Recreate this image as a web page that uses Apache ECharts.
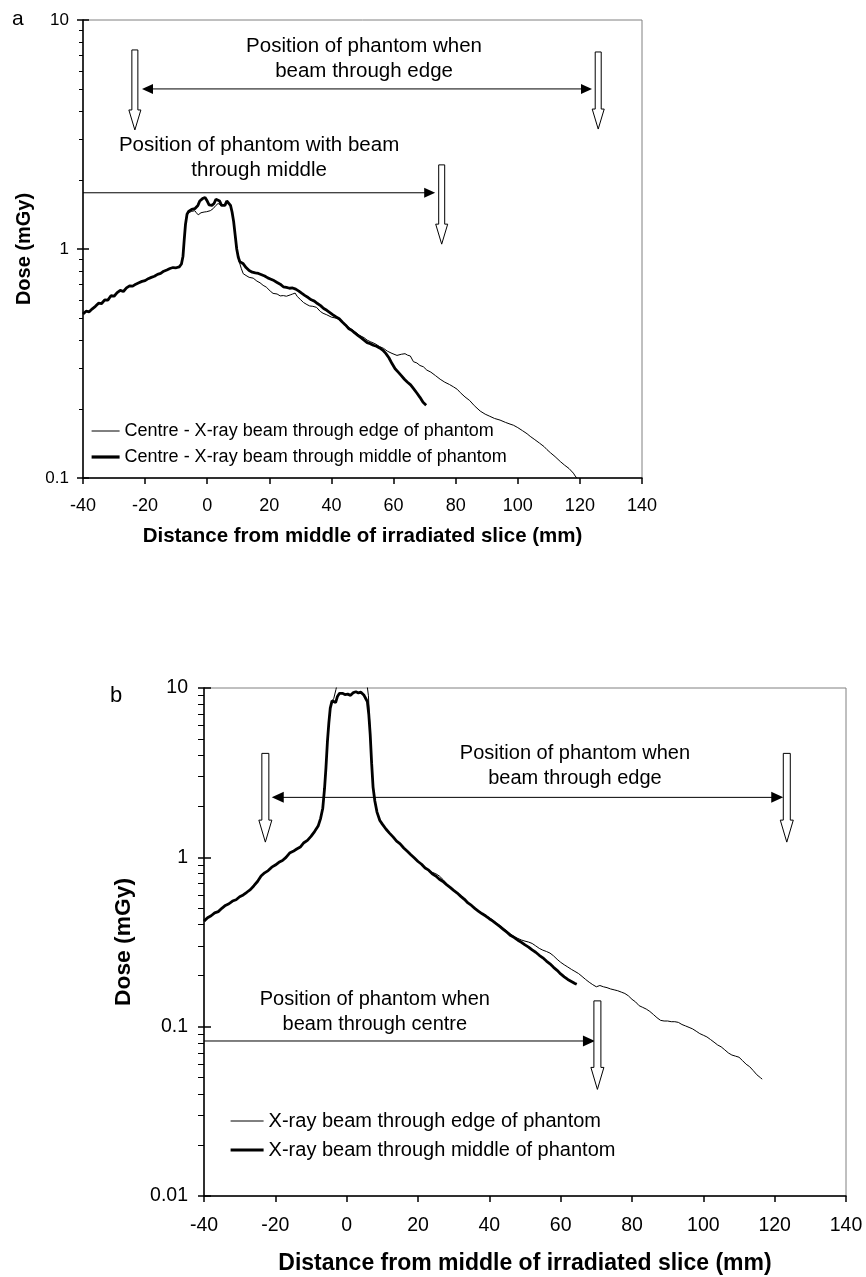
<!DOCTYPE html>
<html><head><meta charset="utf-8">
<script src="https://cdn.jsdelivr.net/npm/echarts@6/dist/echarts.min.js"></script>
<style>html,body{margin:0;padding:0;background:#fff}#c{width:866px;height:1277px}</style>
</head><body><div id="c"></div>
<script>
const FONT = '"Liberation Sans", Arial, sans-serif';

// ---------- Panel a ----------
const nameA_edge = 'Centre - X-ray beam through edge of phantom';
const nameA_mid = 'Centre - X-ray beam through middle of phantom';
const xA_mid = [-40,-39,-38,-37,-36,-35,-34,-33,-32,-31,-30,-29,-28,-27,-26,-25,-24,-23,-22,-21,-20,-19,-18,-17,-16,-15,-14,-13,-12,-11,-10,-9,
  -8.3,-7.8,-7.4,-7.0,-6.5,-6,-5,-4,-3,-2.4,-1.5,-0.7,0,0.6,1.5,2.2,2.8,3.3,4.0,4.6,5.2,5.7,6.3,6.8,7.5,8.0,8.5,9.0,9.5,10,
  10.5,11.5,12.5,13.5,14.5,15.5,16.5,17.5,18.5,19.5,20.5,21.5,22.5,23.5,24.5,25.5,26.5,27.5,28.5,29.5,30.5,31.5,32.5,33.5,34.5,35.5,36.5,37.5,38.5,39.5,40.5,
  41.5,42.5,43.5,44.5,45.5,46.5,47.5,48.5,49.5,50.5,51.5,52.5,53.5,54.5,55.5,56.5,57.5,58.5,59.5,60.5,61.5,62.5,63.5,64.5,65.5,66.5,67.5,68.5,69.5,70.5];
const yA_mid = [0.52,0.535,0.532,0.548,0.562,0.58,0.578,0.6,0.598,0.625,0.622,0.645,0.66,0.652,0.676,0.69,0.688,0.702,0.712,0.722,0.728,0.742,0.752,0.76,0.775,0.782,0.8,0.81,0.822,0.83,0.828,0.836,
  0.86,0.93,1.1,1.28,1.42,1.46,1.49,1.5,1.55,1.62,1.66,1.68,1.62,1.56,1.55,1.58,1.65,1.68,1.62,1.55,1.53,1.55,1.62,1.63,1.55,1.45,1.32,1.15,1.0,0.92,
  0.88,0.865,0.83,0.805,0.792,0.786,0.782,0.772,0.762,0.748,0.738,0.728,0.714,0.702,0.684,0.68,0.674,0.676,0.668,0.655,0.64,0.626,0.614,0.6,0.592,0.578,0.566,0.55,0.54,0.528,0.516,
  0.505,0.496,0.48,0.466,0.45,0.442,0.43,0.42,0.41,0.4,0.39,0.386,0.38,0.376,0.37,0.362,0.35,0.335,0.316,0.3,0.29,0.28,0.27,0.262,0.255,0.245,0.235,0.225,0.214,0.208];

const xA_edge = [-40,-39,-38,-37,-36,-35,-34,-33,-32,-31,-30,-29,-28,-27,-26,-25,-24,-23,-22,-21,-20,-19,-18,-17,-16,-15,-14,-13,-12,-11,-10,-9,
  -8.3,-7.8,-7.4,-7.0,-6.5,-6,-5,-4,-3.5,-3.1,-2.9,-2,-1,-0.2,1,1.9,2.8,3.5,4.0,4.6,5.2,5.7,6.3,6.8,7.5,8.0,8.5,9.0,9.5,10,
  10.3,11,11.6,12.5,13.5,14.8,16,17,18,19,20.3,21.2,22.5,23.5,24.5,25.5,26.7,27.5,28.3,29,30,31,32.1,33,34,35.2,36.4,37.3,38.5,40,
  41.8,43,44.5,46,47.5,49,50.5,51.5,52.5,54,55.5,56.8,58,59.5,61.1,62.5,63.7,64.5,65.4,66.4,67.5,68.5,69.6,70.7,72,73.5,75,76.5,78,79.3,
  80.5,81.5,83,84.5,86,87.9,89.5,91,92.5,94.3,96,97.5,98.6,100,101.5,103,104,105.5,107,108.5,109.4,110.5,112,113.7,115,116.5,117.9,118.5,119];
const yA_edge = [0.522,0.534,0.534,0.546,0.562,0.578,0.58,0.598,0.6,0.622,0.624,0.644,0.658,0.654,0.674,0.688,0.69,0.7,0.714,0.72,0.73,0.74,0.754,0.76,0.774,0.784,0.798,0.812,0.82,0.83,0.83,0.834,
  0.86,0.93,1.1,1.28,1.4,1.44,1.46,1.47,1.44,1.42,1.41,1.44,1.45,1.455,1.47,1.5,1.55,1.58,1.6,1.55,1.53,1.55,1.62,1.63,1.55,1.45,1.32,1.15,1.0,0.92,
  0.88,0.82,0.78,0.766,0.752,0.746,0.724,0.712,0.694,0.682,0.655,0.64,0.636,0.624,0.626,0.622,0.63,0.636,0.642,0.62,0.602,0.584,0.572,0.564,0.562,0.556,0.534,0.524,0.516,0.504,
  0.498,0.484,0.468,0.45,0.436,0.42,0.41,0.4,0.394,0.386,0.375,0.368,0.358,0.35,0.343,0.347,0.349,0.344,0.341,0.322,0.318,0.31,0.306,0.296,0.29,0.28,0.27,0.262,0.256,0.25,
  0.244,0.236,0.226,0.218,0.207,0.196,0.19,0.186,0.182,0.179,0.175,0.172,0.17,0.166,0.161,0.156,0.152,0.147,0.142,0.137,0.133,0.129,0.124,0.118,0.114,0.11,0.105,0.102,0.1];

// annotations panel a (data units)
const arrowsA = [[-21, 123.9, 5.0, 2], [-40, 73.4, 1.76, 1]];      // x1, x2, y, heads
const hollowA = [[-23.3, 7.4, 3.31], [125.9, 7.25, 3.34], [75.5, 2.33, 1.05]]; // x, yTop, yBottom
const textPosA = [[50.5, 6.78], [16.7, 2.49]];
const textsA = ['Position of phantom when\nbeam through edge', 'Position of phantom with beam\nthrough middle'];

// ---------- Panel b ----------
const nameB_edge = 'X-ray beam through edge of phantom';
const nameB_mid = 'X-ray beam through middle of phantom';
const xB_mid = [-40,-39,-38,-37,-36,-35,-34,-33,-32,-31,-30,-29,-28,-27,-26,-25,-24,-23,-22,-21,-20,-19,-18,-17,-16,-15,-14,-13,-12,-11,-10,-9,-8,
  -7.3,-6.7,-6.2,-5.8,-5.4,-5.0,-4.6,-4.1,-3.6,-3.1,-2.6,-2,-1.2,-0.5,0.3,1.1,1.9,2.6,3.3,4.0,4.8,5.3,5.8,6.2,6.6,7.0,7.4,7.9,8.5,9.3,
  10,11,12,13,14,15,16,17,18,19,20,21,22,23,24,25,26,27,28,29,30,31,32,33,34,35,36,37,38,39,40,41,42,43,44,45,46,47,48,49,50,51,52,53,54,55,56,57,58,59,60,61,62,63,64,64.5];
const yB_mid = [0.42,0.44,0.452,0.47,0.478,0.5,0.52,0.532,0.552,0.562,0.585,0.6,0.622,0.645,0.68,0.72,0.775,0.81,0.835,0.875,0.9,0.935,0.958,1.0,1.06,1.085,1.12,1.15,1.22,1.26,1.33,1.42,1.53,
  1.7,1.95,2.55,3.4,4.8,6.2,7.6,8.4,8.5,8.2,8.9,9.3,9.3,9.15,9.2,9.05,9.4,9.5,9.35,9.45,9.1,8.7,8.3,7.0,5.3,3.6,2.6,2.15,1.85,1.65,
  1.57,1.47,1.39,1.32,1.245,1.2,1.135,1.085,1.035,0.99,0.945,0.91,0.865,0.84,0.8,0.775,0.742,0.72,0.69,0.665,0.638,0.615,0.588,0.565,0.538,0.52,0.498,0.48,0.464,0.45,
  0.434,0.42,0.404,0.39,0.374,0.36,0.345,0.336,0.324,0.315,0.304,0.295,0.284,0.275,0.264,0.255,0.244,0.235,0.224,0.215,0.205,0.197,0.19,0.185,0.18,0.178];

const xB_edge = [-40,-39,-38,-37,-36,-35,-34,-33,-32,-31,-30,-29,-28,-27,-26,-25,-24,-23,-22,-21,-20,-19,-18,-17,-16,-15,-14,-13,-12,-11,-10,-9,-8,
  -7.3,-6.7,-6.2,-5.8,-5.4,-5.0,-4.6,-4.1,-3.6,-3.0,-2.5,-2,-1,0,1,2,3,4,5.2,5.7,6.1,6.5,7.0,7.4,7.9,8.5,9.3,
  10,11,12,13,14,15,16,17,18,19,20,21,22,23,24,25,26,27,28,29,30,31,32,33,34,35,36,37,38,39,40,41,42,43,44,45,46,47,48,49,
  50,51,52,53,54,55,56,57,58,59,60,61,62,63,64,65,66,67,68,69,70,71,72,73,74,75,76,77,78,79,80,81,82,83,84,85,86,87,88,89,
  90,91,92,93,94,95,96,97,98,99,100,101,102,103,104,105,106,107,108,109,110,111,112,113,114,115,116,116.5];
const yB_edge = [0.422,0.438,0.454,0.468,0.48,0.498,0.522,0.534,0.55,0.564,0.584,0.602,0.62,0.646,0.678,0.722,0.772,0.812,0.836,0.874,0.902,0.933,0.96,1.0,1.058,1.088,1.118,1.152,1.218,1.262,1.328,1.42,1.53,
  1.7,1.95,2.55,3.4,4.8,6.2,7.6,8.3,8.7,9.8,11,12,12.5,12.5,12.5,12.5,12.5,12.5,12,10.5,9.0,6.0,3.6,2.6,2.15,1.85,1.65,
  1.57,1.47,1.39,1.32,1.25,1.19,1.14,1.08,1.035,0.985,0.945,0.905,0.865,0.835,0.815,0.8,0.775,0.74,0.7,0.665,0.64,0.615,0.595,0.575,0.545,0.52,0.5,0.484,0.468,0.454,
  0.44,0.425,0.41,0.395,0.38,0.366,0.352,0.34,0.332,0.325,0.32,0.316,0.31,0.3,0.29,0.283,0.278,0.272,0.262,0.25,0.24,0.232,0.225,0.218,0.212,0.206,0.198,0.19,0.183,0.177,
  0.172,0.175,0.172,0.17,0.167,0.165,0.163,0.16,0.157,0.152,0.145,0.14,0.133,0.13,0.127,0.123,0.118,0.113,0.109,0.108,
  0.108,0.107,0.107,0.106,0.103,0.101,0.099,0.097,0.094,0.091,0.089,0.087,0.084,0.081,0.078,0.076,0.073,0.07,0.068,0.067,0.066,0.063,0.06,0.058,0.055,0.052,0.05,0.049];

const arrowsB = [[-21, 122.4, 2.26, 2], [-40, 69.6, 0.0823, 1]];
const hollowB = [[-22.8, 4.11, 1.23], [123.4, 4.11, 1.23], [70.3, 0.142, 0.0426]];
const textPosB = [[64, 3.46], [7.9, 0.1217]];
const textsB = ['Position of phantom when\nbeam through edge', 'Position of phantom when\nbeam through centre'];

const THIN = 1, THICK = 2.8;

function zip(xs, ys) { const n = Math.min(xs.length, ys.length); const o = []; for (let i = 0; i < n; i++) o.push([xs[i], ys[i]]); return o; }

function arrowSeries(data, xi, yi, hl, hw) {
  return {
    type: 'custom', xAxisIndex: xi, yAxisIndex: yi, clip: false, silent: true, z: 5,
    encode: { x: [0, 1], y: [2] }, data: data,
    renderItem: function (params, api) {
      const p1 = api.coord([api.value(0), api.value(2)]);
      const p2 = api.coord([api.value(1), api.value(2)]);
      const both = api.value(3) === 2;
      const ch = [{ type: 'line', shape: { x1: p1[0] + (both ? hl - 1 : 0), y1: p1[1], x2: p2[0] - hl + 1, y2: p2[1] }, style: { stroke: '#000', lineWidth: 1 } },
        { type: 'polygon', shape: { points: [[p2[0], p2[1]], [p2[0] - hl, p2[1] - hw], [p2[0] - hl, p2[1] + hw]] }, style: { fill: '#000' } }];
      if (both) ch.push({ type: 'polygon', shape: { points: [[p1[0], p1[1]], [p1[0] + hl, p1[1] - hw], [p1[0] + hl, p1[1] + hw]] }, style: { fill: '#000' } });
      return { type: 'group', children: ch };
    }
  };
}
function hollowSeries(data, xi, yi, sw, hw, hl) {
  return {
    type: 'custom', xAxisIndex: xi, yAxisIndex: yi, clip: false, silent: true, z: 5,
    encode: { x: [0], y: [1, 2] }, data: data,
    renderItem: function (params, api) {
      const t = api.coord([api.value(0), api.value(1)]);
      const b = api.coord([api.value(0), api.value(2)]);
      const cx = t[0], yt = t[1], yb = b[1], yh = yb - hl;
      return { type: 'polygon', shape: { points: [[cx - sw, yt], [cx + sw, yt], [cx + sw, yh], [cx + hw, yh], [cx, yb], [cx - hw, yh], [cx - sw, yh]] },
        style: { fill: '#fff', stroke: '#000', lineWidth: 1 } };
    }
  };
}
function textSeries(pos, texts, xi, yi, fs, lh) {
  return {
    type: 'custom', xAxisIndex: xi, yAxisIndex: yi, clip: false, silent: true, z: 5,
    encode: { x: 0, y: 1 }, data: pos,
    renderItem: function (params, api) {
      const p = api.coord([api.value(0), api.value(1)]);
      return { type: 'text', x: p[0], y: p[1], style: { text: texts[params.dataIndex], align: 'center', verticalAlign: 'middle', font: fs + 'px ' + FONT, fill: '#000', lineHeight: lh } };
    }
  };
}

function xAx(gi, fs, margin, nameFs, nameGap) {
  return { gridIndex: gi, type: 'value', min: -40, max: 140, interval: 20,
    axisLine: { onZero: false, lineStyle: { color: '#000', width: 1.5 } },
    axisTick: { length: 6, lineStyle: { color: '#000', width: 1.5 } },
    axisLabel: { color: '#000', fontSize: fs, margin: margin, fontFamily: FONT },
    splitLine: { show: false },
    name: 'Distance from middle of irradiated slice (mm)', nameLocation: 'middle', nameGap: nameGap,
    nameTextStyle: { fontSize: nameFs, fontWeight: 'bold', color: '#000', fontFamily: FONT } };
}
function yAx(gi, min, fs, margin, nameFs, nameGap, minorLen) {
  return { gridIndex: gi, type: 'log', logBase: 10, min: min, max: 10,
    axisLine: { show: true, onZero: false, lineStyle: { color: '#000', width: 1.5 } },
    axisTick: { show: true, length: 6, lineStyle: { color: '#000', width: 1.5 } },
    minorTick: { show: true, splitNumber: 9, length: minorLen, lineStyle: { color: '#000', width: 1 } },
    splitLine: { show: false }, minorSplitLine: { show: false },
    axisLabel: { color: '#000', fontSize: fs, margin: margin, fontFamily: FONT },
    name: 'Dose (mGy)', nameLocation: 'middle', nameGap: nameGap,
    nameTextStyle: { fontSize: nameFs, fontWeight: 'bold', color: '#000', fontFamily: FONT } };
}
function yIn(gi, min, len) {
  return { gridIndex: gi, type: 'log', logBase: 10, min: min, max: 10, position: 'left',
    axisLine: { show: false, onZero: false }, axisTick: { show: true, inside: true, length: len, lineStyle: { color: '#000', width: 1.5 } },
    axisLabel: { show: false }, splitLine: { show: false } };
}

const legendCommon = { orient: 'vertical', padding: 0, itemHeight: 14, selectedMode: false, itemStyle: { opacity: 0 } };

const chart = echarts.init(document.getElementById('c'), null, { renderer: 'canvas' });
chart.setOption({
  animation: false,
  backgroundColor: '#fff',
  textStyle: { fontFamily: FONT },
  grid: [
    { left: 83, top: 20, width: 559, height: 458, show: true, borderColor: '#808080', borderWidth: 1, backgroundColor: 'transparent' },
    { left: 204, top: 688, width: 642, height: 508, show: true, borderColor: '#808080', borderWidth: 1, backgroundColor: 'transparent' }
  ],
  xAxis: [xAx(0, 18, 19, 20.5, 48), xAx(1, 19.5, 20, 23, 56)],
  yAxis: [yAx(0, 0.1, 17, 14, 20, 49, 4), yIn(0, 0.1, 6), yAx(1, 0.01, 19.5, 16, 22.8, 69, 6), yIn(1, 0.01, 7)],
  legend: [
    Object.assign({}, legendCommon, {
      data: [{ name: nameA_edge, lineStyle: { width: THIN, color: '#000' } }, { name: nameA_mid, lineStyle: { width: THICK + 0.4, color: '#000' } }],
      left: 90, top: 422, itemWidth: 28, itemGap: 8,
      textStyle: { fontSize: 18, color: '#000', fontFamily: FONT } }),
    Object.assign({}, legendCommon, {
      data: [{ name: nameB_edge, lineStyle: { width: THIN, color: '#000' } }, { name: nameB_mid, lineStyle: { width: THICK + 0.4, color: '#000' } }],
      left: 229, top: 1111, itemWidth: 33, itemGap: 9,
      textStyle: { fontSize: 20, color: '#000', fontFamily: FONT } })
  ],
  graphic: [
    { type: 'text', left: 12, top: 9, style: { text: 'a', font: '21px ' + FONT, fill: '#000' } },
    { type: 'text', left: 110, top: 685, style: { text: 'b', font: '22px ' + FONT, fill: '#000' } }
  ],
  series: [
    { name: nameA_mid, type: 'line', xAxisIndex: 0, yAxisIndex: 0, data: zip(xA_mid, yA_mid), symbol: 'none', showSymbol: false, clip: true,
      lineStyle: { color: '#000', width: THICK }, itemStyle: { color: '#000' }, z: 3 },
    { name: nameA_edge, type: 'line', xAxisIndex: 0, yAxisIndex: 0, data: zip(xA_edge, yA_edge), symbol: 'none', showSymbol: false, clip: true,
      lineStyle: { color: '#000', width: THIN }, itemStyle: { color: '#000' }, z: 4 },
    { name: nameB_mid, type: 'line', xAxisIndex: 1, yAxisIndex: 2, data: zip(xB_mid, yB_mid), symbol: 'none', showSymbol: false, clip: true,
      lineStyle: { color: '#000', width: THICK }, itemStyle: { color: '#000' }, z: 3 },
    { name: nameB_edge, type: 'line', xAxisIndex: 1, yAxisIndex: 2, data: zip(xB_edge, yB_edge), symbol: 'none', showSymbol: false, clip: true,
      lineStyle: { color: '#000', width: THIN }, itemStyle: { color: '#000' }, z: 4 },
    arrowSeries(arrowsA, 0, 0, 11, 5),
    hollowSeries(hollowA, 0, 0, 3, 6, 20),
    textSeries(textPosA, textsA, 0, 0, 20.5, 25),
    arrowSeries(arrowsB, 1, 2, 12, 5.5),
    hollowSeries(hollowB, 1, 2, 3.5, 6.5, 22),
    textSeries(textPosB, textsB, 1, 2, 20, 25)
  ]
});
</script></body></html>
